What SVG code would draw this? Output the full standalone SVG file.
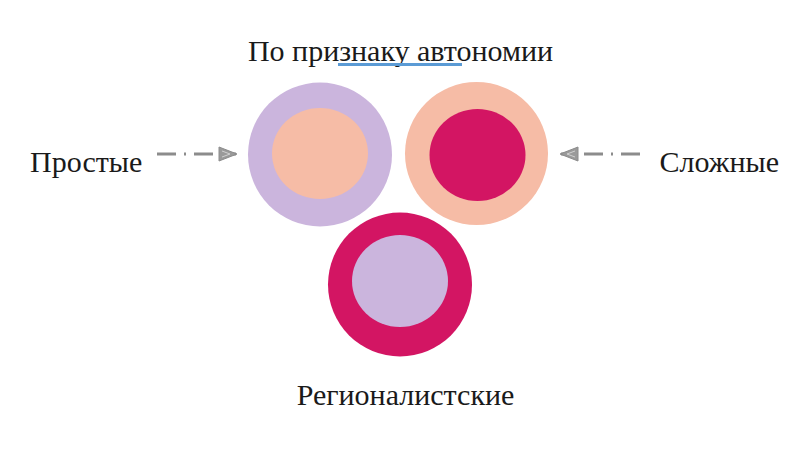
<svg xmlns="http://www.w3.org/2000/svg" width="800" height="450" viewBox="0 0 800 450">
<defs>
<style>
.t{font-family:"Liberation Serif","Times New Roman",serif;font-size:30px;fill:#1a1a1a}
.lav{fill:#CBB5DD}.pch{fill:#F6BCA6}.mag{fill:#D31563}
.conn{stroke:#8c8c8c;stroke-width:3;fill:none;stroke-dasharray:19 8 2 8}
</style>
<marker id="ah" viewBox="0 0 20 16" refX="18" refY="8" markerWidth="20" markerHeight="16" markerUnits="userSpaceOnUse" orient="auto">
<path d="M1,1 L19,8 L1,15 Z" fill="#9a9a9a" stroke="#8c8c8c" stroke-width="1"/>
<path d="M4,5 L12,8 L4,11" fill="none" stroke="#d0d0d0" stroke-width="1"/>
</marker>
</defs>
<rect width="800" height="450" fill="#fff"/>
<g id="title">
<text class="t" x="400.5" y="61" text-anchor="middle">По признаку автономии</text>
<line x1="338" y1="64.5" x2="462" y2="64.5" stroke="#5B9BD5" stroke-width="3"/>
</g>
<g id="simple">
<circle class="lav" cx="320" cy="154.5" r="72"/>
<ellipse class="pch" cx="320" cy="153.5" rx="48" ry="45.5"/>
</g>
<g id="complex">
<circle class="pch" cx="476.5" cy="153.5" r="71.5"/>
<ellipse class="mag" cx="477.5" cy="155" rx="48" ry="46"/>
</g>
<g id="regional">
<circle class="mag" cx="400" cy="284.5" r="72"/>
<ellipse class="lav" cx="400" cy="281" rx="48" ry="46"/>
</g>
<g id="label-simple"><text class="t" x="30" y="172">Простые</text></g>
<g id="label-complex"><text class="t" x="779" y="172" text-anchor="end">Сложные</text></g>
<g id="label-regional"><text class="t" x="405.5" y="405" text-anchor="middle">Регионалистские</text></g>
<g id="connectors">
<line class="conn" x1="157" y1="154" x2="236" y2="154" marker-end="url(#ah)"/>
<line class="conn" x1="640" y1="154" x2="561" y2="154" marker-end="url(#ah)"/>
</g>
</svg>
